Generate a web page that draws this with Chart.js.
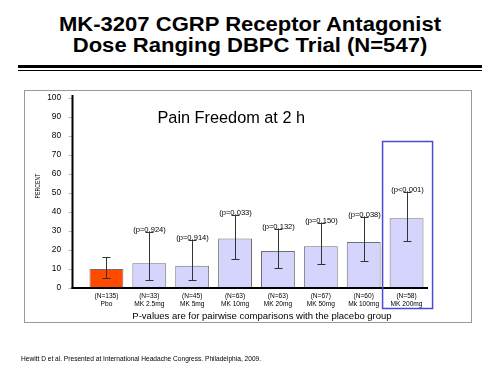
<!DOCTYPE html>
<html>
<head>
<meta charset="utf-8">
<script src="https://cdn.jsdelivr.net/npm/chart.js@4.4.0/dist/chart.umd.min.js"></script>
<style>
  html, body { margin: 0; padding: 0; background: #fff; }
  #wrap { position: relative; width: 500px; height: 375px; overflow: hidden; font-family: "Liberation Sans", Arial, sans-serif; }
  #title { position: absolute; left: 0; top: 14px; width: 500px; text-align: center; font-weight: bold; font-size: 19.5px; line-height: 21px; color: #000; transform: scaleX(1.13); transform-origin: 250px 0; }
  #rule1 { position: absolute; left: 18px; top: 65px; width: 464px; height: 3px; background: #000; }
  #rule2 { position: absolute; left: 18px; top: 69.5px; width: 464px; height: 1px; background: #000; }
  #frame { position: absolute; left: 24px; top: 90px; width: 446px; height: 231px; border: 1.5px solid #999; box-sizing: content-box; }
  #footer { position: absolute; left: 21px; top: 355px; font-size: 6.6px; line-height: 8px; color: #000; white-space: nowrap; transform: scaleY(1.05); }
  canvas { position: absolute; left: 0; top: 0; }
</style>
</head>
<body>
<div id="wrap">
  <div id="title">MK-3207 CGRP Receptor Antagonist<br>Dose Ranging DBPC Trial (N=547)</div>
  <div id="rule1"></div>
  <div id="rule2"></div>
  <div id="frame"></div>
  <canvas id="c" width="500" height="375"></canvas>
  <div id="footer">Hewitt D et al. Presented at International Headache Congress. Philadelphia, 2009.</div>
</div>
<script>
const groupSizes = ['(N=135)', '(N=33)', '(N=45)', '(N=63)', '(N=63)', '(N=67)', '(N=60)', '(N=58)'];
const doses = ['Pbo', 'MK 2.5mg', 'MK 5mg', 'MK 10mg', 'MK 20mg', 'MK 50mg', 'Mk 100mg', 'MK 200mg'];
const painFreedom = [10.0, 13.0, 11.7, 26.0, 19.5, 22.0, 24.2, 36.7];
const ciLow = [5.4, 4.0, 4.0, 15.4, 10.7, 12.8, 14.0, 24.6];
const ciHigh = [16.5, 29.5, 25.3, 38.6, 31.2, 34.0, 37.5, 50.4];
const pValues = ['', '(p=0.924)', '(p=0.914)', '(p=0.033)', '(p=0.132)', '(p=0.150)', '(p=0.038)', '(p<0.001)'];
const yTicks = [0, 10, 20, 30, 40, 50, 60, 70, 80, 90, 100];

const FONT = '"Liberation Sans", Arial, sans-serif';
const labels = groupSizes.map((n, i) => [n, doses[i]]);
const barColors = painFreedom.map((v, i) => i === 0 ? '#FF4A00' : '#D4D4FC');

const overlay = {
  id: 'overlay',
  afterDatasetsDraw(chart) {
    const ctx = chart.ctx;
    const x = chart.scales.x, y = chart.scales.y;
    const axisX = 72.5;
    ctx.save();
    // y tick marks
    ctx.strokeStyle = '#bbb';
    ctx.lineWidth = 1;
    yTicks.forEach(t => {
      const py = Math.round(y.getPixelForValue(t)) + 0.5;
      ctx.beginPath(); ctx.moveTo(68.5, py); ctx.lineTo(axisX, py); ctx.stroke();
    });
    // axes
    ctx.strokeStyle = '#000';
    ctx.lineWidth = 2;
    ctx.beginPath(); ctx.moveTo(axisX, 95); ctx.lineTo(axisX, y.getPixelForValue(0) + 1); ctx.stroke();
    ctx.beginPath(); ctx.moveTo(axisX - 1, y.getPixelForValue(0)); ctx.lineTo(x.right, y.getPixelForValue(0)); ctx.stroke();
    // error bars and p-values
    ctx.strokeStyle = '#333';
    ctx.lineWidth = 1;
    ctx.fillStyle = '#000';
    ctx.font = '7.6px ' + FONT;
    ctx.textAlign = 'center';
    ctx.textBaseline = 'middle';
    painFreedom.forEach((v, i) => {
      const px = Math.round(x.getPixelForValue(i)) + 0.5;
      const yh = Math.round(y.getPixelForValue(ciHigh[i])) + 0.5;
      const yl = Math.round(y.getPixelForValue(ciLow[i])) + 0.5;
      ctx.beginPath();
      ctx.moveTo(px, yh); ctx.lineTo(px, yl);
      ctx.moveTo(px - 4, yh); ctx.lineTo(px + 4, yh);
      ctx.moveTo(px - 4, yl); ctx.lineTo(px + 4, yl);
      ctx.stroke();
      if (pValues[i]) ctx.fillText(pValues[i], px, yh - 3);
    });
    // highlight box around top dose
    const last = painFreedom.length - 1;
    const cx = x.getPixelForValue(last);
    ctx.strokeStyle = '#4B4BD2';
    ctx.lineWidth = 1.5;
    ctx.strokeRect(cx - 24, 141.5, 50, 167);
    // inner texts
    ctx.fillStyle = '#000';
    ctx.font = '16.3px ' + FONT;
    ctx.textAlign = 'left';
    ctx.textBaseline = 'alphabetic';
    ctx.fillText('Pain Freedom at 2 h', 157.5, 123);
    ctx.font = '9.5px ' + FONT;
    ctx.textAlign = 'center';
    ctx.textBaseline = 'middle';
    ctx.fillText('P-values are for pairwise comparisons with the placebo group', 262, 316);
    ctx.translate(38.5, 186);
    ctx.rotate(-Math.PI / 2);
    ctx.scale(1, 1.35);
    ctx.font = '5.2px ' + FONT;
    ctx.fillText('PERCENT', 0, 0);
    ctx.restore();
  }
};

new Chart(document.getElementById('c'), {
  type: 'bar',
  data: {
    labels: labels,
    datasets: [{
      data: painFreedom,
      backgroundColor: barColors,
      borderColor: '#707070',
      borderWidth: 1,
      borderSkipped: 'bottom',
      barPercentage: 0.79,
      categoryPercentage: 1.0
    }]
  },
  options: {
    responsive: false,
    animation: false,
    devicePixelRatio: 1,
    layout: { padding: { top: 98, right: 72, left: 0, bottom: 0 } },
    plugins: { legend: { display: false }, tooltip: { enabled: false }, title: { display: false } },
    scales: {
      x: {
        type: 'category',
        offset: true,
        grid: { display: false, drawTicks: false },
        border: { display: false },
        ticks: { color: '#000', font: { family: FONT, size: 6.6 }, padding: 4.5, maxRotation: 0, autoSkip: false },
        afterFit(s) { s.height = 87; }
      },
      y: {
        min: 0, max: 100,
        afterBuildTicks(s) { s.ticks = yTicks.map(v => ({ value: v })); },
        grid: { display: false, drawTicks: false },
        border: { display: false },
        ticks: { color: '#000', font: { family: FONT, size: 8.3 }, padding: 24 },
        afterFit(s) { s.width = 85; }
      }
    }
  },
  plugins: [overlay]
});
</script>
</body>
</html>
